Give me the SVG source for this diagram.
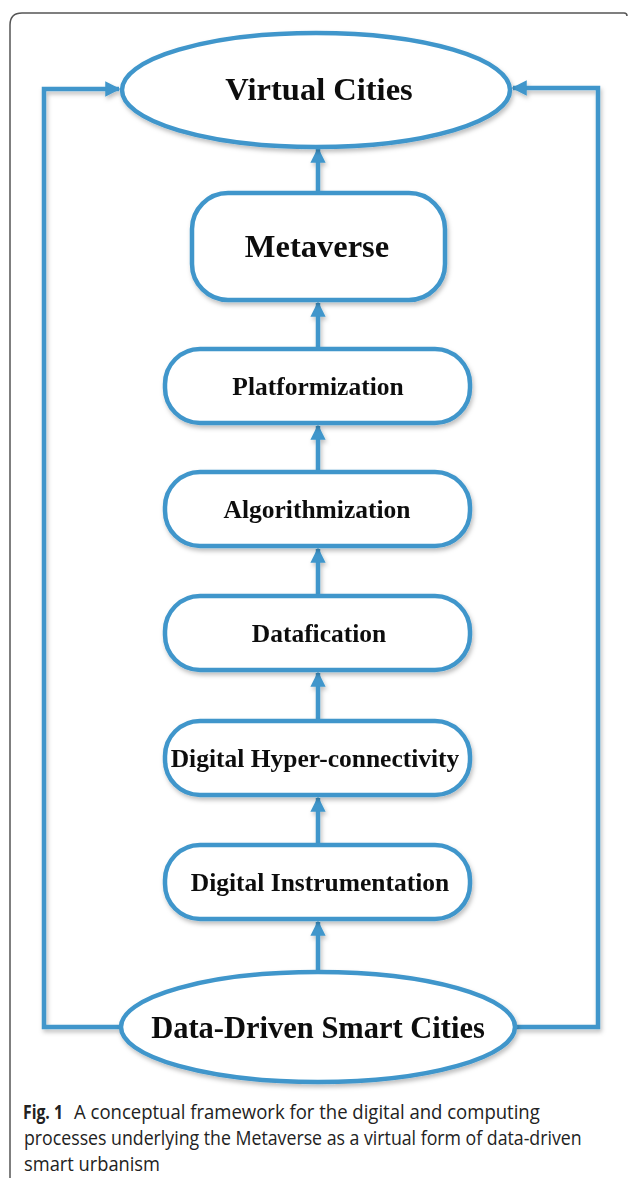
<svg xmlns="http://www.w3.org/2000/svg" width="629" height="1180" viewBox="0 0 629 1180">
<style>
.node{fill:#fff;stroke:#3f96cb;stroke-width:4.5}
.lbl{font-family:"Liberation Serif","Times New Roman",serif;font-weight:bold;fill:#111;text-anchor:middle}
.con{fill:none;stroke:#3f96cb;stroke-width:4.5}
.cap{font-family:"Open Sans","Noto Sans",sans-serif;font-size:19.5px;fill:#222}
</style>
<defs>
<marker id="ah" viewBox="0 0 10 10" refX="9" refY="5" markerWidth="3.4" markerHeight="3.4" orient="auto" markerUnits="strokeWidth">
<path d="M0,0 L10,5 L0,10 Z" fill="#3f96cb"/>
</marker>
<filter id="sh" x="-10%" y="-10%" width="120%" height="130%">
<feDropShadow dx="1.5" dy="3" stdDeviation="2" flood-color="#000" flood-opacity="0.25"/>
</filter>
</defs>
<rect width="629" height="1180" fill="#fff"/>
<path d="M10 1178 V25 Q10 13 22 13 H624 Q627 13 627 16" fill="none" stroke="#555" stroke-width="1.5"/>

<g id="connectors" filter="url(#sh)">
<path class="con" d="M120 1027 H44 V89 H119" marker-end="url(#ah)"/>
<path class="con" d="M516 1027 H598 V88 H513" marker-end="url(#ah)"/>
<path class="con" d="M318 193 V149" marker-end="url(#ah)"/>
<path class="con" d="M318 349 V303" marker-end="url(#ah)"/>
<path class="con" d="M318 472 V426" marker-end="url(#ah)"/>
<path class="con" d="M318 596 V549" marker-end="url(#ah)"/>
<path class="con" d="M318 721 V673" marker-end="url(#ah)"/>
<path class="con" d="M318 845 V798" marker-end="url(#ah)"/>
<path class="con" d="M318 972 V922" marker-end="url(#ah)"/>
</g>

<g id="virtual-cities" filter="url(#sh)">
<ellipse class="node" cx="316" cy="90" rx="194" ry="57"/>
<text class="lbl" x="319" y="100" font-size="32.5">Virtual Cities</text>
</g>
<g id="metaverse" filter="url(#sh)">
<rect class="node" x="192" y="193" width="253" height="107" rx="36"/>
<text class="lbl" x="317" y="257" font-size="32.5">Metaverse</text>
</g>
<g id="platformization" filter="url(#sh)">
<rect class="node" x="165" y="349" width="305" height="74" rx="35"/>
<text class="lbl" x="318" y="395" font-size="25.5">Platformization</text>
</g>
<g id="algorithmization" filter="url(#sh)">
<rect class="node" x="165" y="472" width="305" height="74" rx="35"/>
<text class="lbl" x="317" y="518" font-size="25.5">Algorithmization</text>
</g>
<g id="datafication" filter="url(#sh)">
<rect class="node" x="165" y="596" width="305" height="74" rx="35"/>
<text class="lbl" x="319" y="642" font-size="25.5">Datafication</text>
</g>
<g id="hyper-connectivity" filter="url(#sh)">
<rect class="node" x="165" y="721" width="305" height="74" rx="35"/>
<text class="lbl" x="315" y="767" font-size="25.5">Digital Hyper-connectivity</text>
</g>
<g id="instrumentation" filter="url(#sh)">
<rect class="node" x="165" y="845" width="305" height="74" rx="35"/>
<text class="lbl" x="320" y="891" font-size="25.5">Digital Instrumentation</text>
</g>
<g id="data-driven" filter="url(#sh)">
<ellipse class="node" cx="318" cy="1027" rx="197" ry="55"/>
<text class="lbl" x="318" y="1038" font-size="30.5">Data-Driven Smart Cities</text>
</g>

<g id="caption" transform="scale(0.85,1)">
<text class="cap" x="27.06" y="1119" font-weight="bold" textLength="47" lengthAdjust="spacingAndGlyphs">Fig. 1</text>
<text class="cap" x="87.06" y="1119" textLength="548" lengthAdjust="spacingAndGlyphs">A conceptual framework for the digital and computing</text>
<text class="cap" x="28.24" y="1145" textLength="656" lengthAdjust="spacingAndGlyphs">processes underlying the Metaverse as a virtual form of data-driven</text>
<text class="cap" x="28.24" y="1171" textLength="160" lengthAdjust="spacingAndGlyphs">smart urbanism</text>
</g>
</svg>
